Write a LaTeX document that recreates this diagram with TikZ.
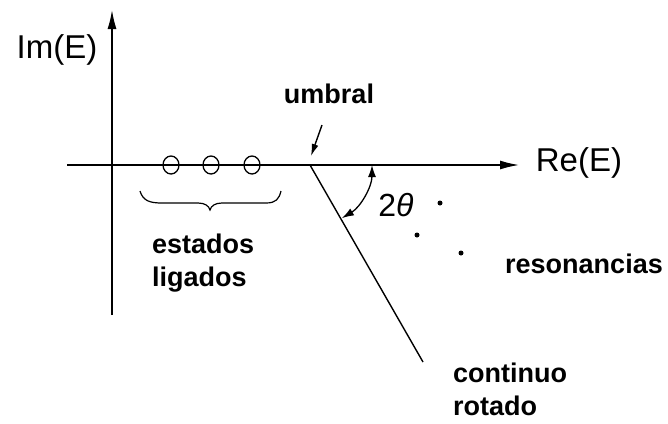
\documentclass[tikz,border=0pt]{standalone}
\usepackage{fontspec}
\setmainfont{Liberation Sans}
\usetikzlibrary{arrows.meta,shapes.geometric}
\begin{document}
\begin{tikzpicture}[x=1pt,y=-1pt,
  axis/.style={line width=1.5pt,-{Latex[length=19pt,width=9pt]}},
  thin line/.style={line width=1.4pt},
  boldlabel/.style={font=\fontsize{27}{33}\selectfont\bfseries,inner sep=0pt,align=left},
  axislabel/.style={font=\fontsize{33}{36}\selectfont,inner sep=0pt},
  state/.style={ellipse,draw,line width=1.3pt,minimum width=16pt,minimum height=18pt,inner sep=0pt},
  res/.style={circle,fill,minimum size=5pt,inner sep=0pt}]
\useasboundingbox (0,0) rectangle (668,423);
% axes
\coordinate (vb) at (112,315);
\coordinate (vt) at (112,10);
\coordinate (hl) at (67,165);
\coordinate (hr) at (519,165);
\draw[axis] (vb) -- (vt);
\draw[axis] (hl) -- (hr);
\node[axislabel] (im) at (57,50) {Im(E)};
\node[axislabel] (re) at (579,163) {Re(E)};
% threshold and rotated continuum
\coordinate (T) at (310,165);
\coordinate (C) at (423,362);
\draw[thin line] (T) -- (C);
\node[boldlabel] (umb) at (329,94) {umbral};
\coordinate (ua) at (322,125);
\coordinate (ub) at (311,156);
\draw[line width=1.4pt,-{Latex[length=12pt,width=7pt]}] (ua) -- (ub);
% angle
\draw[line width=1.3pt,{Latex[length=12pt,width=8pt]}-{Latex[length=12pt,width=8pt]}]
  ([shift={(0:62)}]T) arc[start angle=0,end angle=59,radius=62];
\node[font=\fontsize{32}{34}\selectfont,inner sep=0pt] (ang) at (396,205) {2\textit{θ}};
% bound states
\node[state] (s1) at (171,165) {};
\node[state] (s2) at (211,165) {};
\node[state] (s3) at (252,165) {};
\coordinate (bl) at (140,191);
\coordinate (bm) at (210,210);
\coordinate (br) at (281,191);
\draw[line width=1.2pt] (bl) .. controls (143,201) and (150,203) .. (162,203) -- (198,203)
  .. controls (205,203) and (209,206) .. (bm) .. controls (211,206) and (215,203) .. (222,203)
  -- (266,203) .. controls (276,203) and (279,199) .. (br);
\node[boldlabel,anchor=west] (est) at (152,263) {estados\\ligados};
% resonances
\node[res] (r1) at (440,203) {};
\node[res] (r2) at (417,235) {};
\node[res] (r3) at (461,253) {};
\node[boldlabel,anchor=west] (reslab) at (505,264) {resonancias};
\node[boldlabel,anchor=west] (cont) at (453,389) {continuo\\rotado};
\end{tikzpicture}
\end{document}
